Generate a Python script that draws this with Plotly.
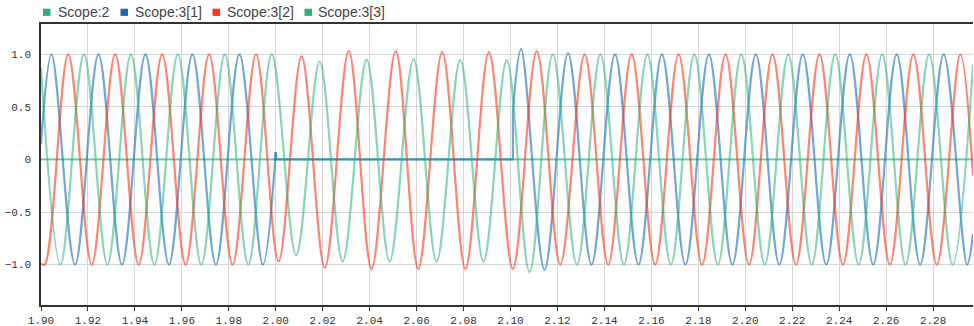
import plotly.graph_objects as go

# ---------------- data ----------------
# Scope:2 (constant zero signal)
scope2_t = [1.900, 2.297]
scope2_v = [0.0, 0.0]

# Scope:3[1] (blue) - extremes before the fault
blue_pre_t = [1.9000, 1.9045, 1.9145, 1.9245, 1.9345, 1.9445, 1.9545, 1.9645,
              1.9745, 1.9845, 1.9945, 2.0000]
blue_pre_v = [0.15, 1.00, -1.00, 1.00, -1.00, 1.00, -1.00, 1.00,
              -1.00, 1.00, -1.00, 0.07]
# blue while switched off (flat at zero, jumps back at 2.101)
blue_off_t = [2.0000, 2.0000, 2.1010, 2.1010]
blue_off_v = [0.07, 0.00, 0.00, 0.45]
# blue after reclosing - extremes
blue_post_t = [2.1010, 2.1045, 2.1145, 2.1245, 2.1345, 2.1445, 2.1545, 2.1645,
               2.1745, 2.1845, 2.1945, 2.2045, 2.2145, 2.2245, 2.2345, 2.2445,
               2.2545, 2.2645, 2.2745, 2.2845, 2.2945, 2.2970]
blue_post_v = [0.45, 1.05, -1.05, 1.01, -1.00, 1.00, -1.00, 1.00,
               -1.00, 1.00, -1.00, 1.00, -1.00, 1.00, -1.00, 1.00,
               -1.00, 1.00, -1.00, 1.00, -1.00, -0.71]

# Scope:3[2] (red) - extremes
red_t = [1.9000, 1.9016, 1.9116, 1.9216, 1.9316, 1.9416, 1.9516, 1.9616, 1.9716,
         1.9816, 1.9916,
         2.0012, 2.0110, 2.0209, 2.0311, 2.0408, 2.0511, 2.0607, 2.0709, 2.0808,
         2.0908, 2.1010, 2.1112, 2.1212,
         2.1316, 2.1416, 2.1516, 2.1616, 2.1716, 2.1816, 2.1916, 2.2016, 2.2116,
         2.2216, 2.2316, 2.2416, 2.2516, 2.2616, 2.2716, 2.2816, 2.2916,
         2.2970]
red_v = [-0.99, -1.00, 1.00, -1.00, 1.00, -1.00, 1.00, -1.00, 1.00,
         -1.00, 1.00,
         -0.97, 0.98, -1.03, 1.03, -1.04, 1.03, -1.04, 1.02, -1.04,
         1.02, -1.04, 1.03, -1.00,
         1.00, -1.00, 1.00, -1.00, 1.00, -1.00, 1.00, -1.00, 1.00,
         -1.00, 1.00, -1.00, 1.00, -1.00, 1.00, -1.00, 1.00,
         -0.15]

# Scope:3[3] (green) - extremes
green_t = [1.9000, 1.9083, 1.9183, 1.9283, 1.9383, 1.9483, 1.9583, 1.9683, 1.9783,
           1.9883, 1.9983,
           2.0087, 2.0187, 2.0285, 2.0387, 2.0485, 2.0587, 2.0685, 2.0786, 2.0885,
           2.0984, 2.1081, 2.1180,
           2.1283, 2.1383, 2.1483, 2.1583, 2.1683, 2.1783, 2.1883, 2.1983, 2.2083,
           2.2183, 2.2283, 2.2383, 2.2483, 2.2583, 2.2683, 2.2783, 2.2883,
           2.2970]
green_v = [0.87, -1.00, 1.00, -1.00, 1.00, -1.00, 1.00, -1.00, 1.00,
           -1.00, 1.00,
           -0.91, 0.93, -0.97, 0.95, -0.97, 0.955, -0.97, 0.945, -0.97,
           0.945, -1.07, 1.00,
           -1.00, 1.00, -1.00, 1.00, -1.00, 1.00, -1.00, 1.00, -1.00,
           1.00, -1.00, 1.00, -1.00, 1.00, -1.00, 1.00, -1.00,
           0.90]

x_tickvals = [1.90, 1.92, 1.94, 1.96, 1.98, 2.00, 2.02, 2.04, 2.06, 2.08, 2.10,
              2.12, 2.14, 2.16, 2.18, 2.20, 2.22, 2.24, 2.26, 2.28]
x_ticktext = ["1.90", "1.92", "1.94", "1.96", "1.98", "2.00", "2.02", "2.04",
              "2.06", "2.08", "2.10", "2.12", "2.14", "2.16", "2.18", "2.20",
              "2.22", "2.24", "2.26", "2.28"]
y_tickvals = [1.0, 0.5, 0.0, -0.5, -1.0]
y_ticktext = ["1.0", "0.5", "0", "\u22120.5", "\u22121.0"]

series_names = ["Scope:2", "Scope:3[1]", "Scope:3[2]", "Scope:3[3]"]

# ---------------- styling ----------------
W, H = 974, 326
ML, MR, MT, MB = 41, 1, 24, 21
PW, PH = W - ML - MR, H - MT - MB

C_GREEN = "rgb(40,178,118)"
C_BLUE = "rgb(18,108,190)"
C_RED = "rgb(255,52,20)"
L_GREEN = "rgba(40,178,118,0.55)"
L_BLUE = "rgba(18,108,190,0.6)"
L_RED = "rgba(255,52,20,0.6)"
legend_colors = [C_GREEN, C_BLUE, C_RED, C_GREEN]
legend_swatch_px = [43, 120.5, 212.5, 304.5]   # left edge of each swatch (px)
legend_text_px = [56.5, 134, 225.5, 317]       # left edge of each label (px)
LEG_Y = 12.3
LW = 2.2

fig = go.Figure()

fig.add_trace(go.Scatter(x=scope2_t, y=scope2_v, mode="lines", name=series_names[0],
                         showlegend=False, line=dict(color=L_GREEN, width=LW)))
fig.add_trace(go.Scatter(x=blue_pre_t, y=blue_pre_v, mode="lines", name=series_names[1],
                         showlegend=False, line=dict(color=L_BLUE, width=LW, shape="spline")))
fig.add_trace(go.Scatter(x=blue_off_t, y=blue_off_v, mode="lines", name=series_names[1],
                         showlegend=False, line=dict(color=L_BLUE, width=LW)))
fig.add_trace(go.Scatter(x=blue_post_t, y=blue_post_v, mode="lines", name=series_names[1],
                         showlegend=False, line=dict(color=L_BLUE, width=LW, shape="spline")))
fig.add_trace(go.Scatter(x=red_t, y=red_v, mode="lines", name=series_names[2],
                         showlegend=False, line=dict(color=L_RED, width=LW, shape="spline")))
fig.add_trace(go.Scatter(x=green_t, y=green_v, mode="lines", name=series_names[3],
                         showlegend=False, line=dict(color=L_GREEN, width=LW, shape="spline")))


def px_to_paper_x(px):
    return (px - ML) / PW


def px_to_paper_y(py):
    return (H - MB - py) / PH


shapes = []
annotations = []
for name, col, sx, tx in zip(series_names, legend_colors, legend_swatch_px, legend_text_px):
    shapes.append(dict(type="rect", xref="paper", yref="paper",
                       x0=px_to_paper_x(sx), x1=px_to_paper_x(sx + 7.5),
                       y0=px_to_paper_y(LEG_Y + 3.6), y1=px_to_paper_y(LEG_Y - 3.6),
                       fillcolor=col, line=dict(width=0)))
    annotations.append(dict(text=name, xref="paper", yref="paper",
                            x=px_to_paper_x(tx), y=px_to_paper_y(LEG_Y),
                            xanchor="left", yanchor="middle", showarrow=False,
                            borderpad=0,
                            font=dict(family="Liberation Sans, Arial, sans-serif",
                                      size=14, color="#444")))

fig.update_layout(
    width=W, height=H,
    margin=dict(l=ML, r=MR, t=MT, b=MB, autoexpand=False),
    paper_bgcolor="white", plot_bgcolor="white",
    showlegend=False,
    shapes=shapes, annotations=annotations,
    font=dict(family="Liberation Mono, DejaVu Sans Mono, monospace", size=11, color="#333"),
)
fig.update_xaxes(range=[1.90, 2.297], tickmode="array", tickvals=x_tickvals, ticktext=x_ticktext,
                 showgrid=True, gridcolor="#d6d6d6", gridwidth=1,
                 showline=True, linecolor="#333", linewidth=1.5, mirror=True,
                 ticks="outside", ticklen=4, tickcolor="#333", zeroline=False,
                 tickfont=dict(size=11, color="#333"))
fig.update_yaxes(range=[-1.384, 1.288], tickmode="array", tickvals=y_tickvals, ticktext=y_ticktext,
                 showgrid=True, gridcolor="#d6d6d6", gridwidth=1,
                 showline=True, linecolor="#333", linewidth=1.5,
                 ticks="", zeroline=False, ticklabelstandoff=6,
                 tickfont=dict(size=11, color="#333"))

fig.write_html("out.html", config={"displayModeBar": False},
               post_script="document.body.style.margin='0';document.body.style.overflow='hidden';")
